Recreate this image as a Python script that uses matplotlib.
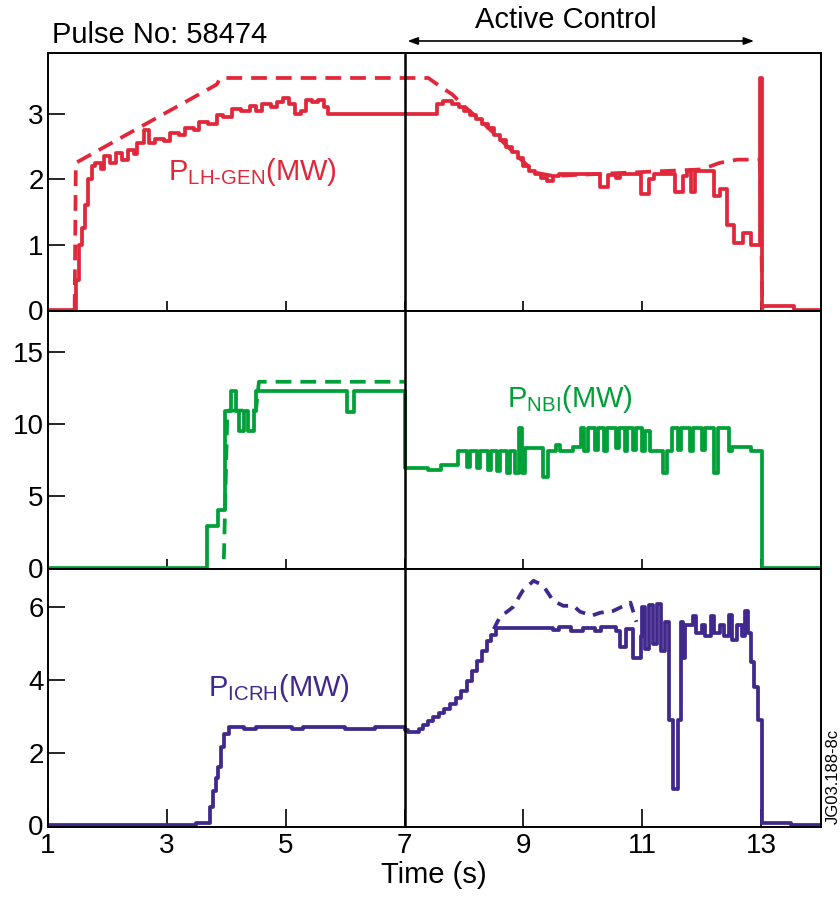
import numpy as np
import matplotlib
matplotlib.use('Agg')
from matplotlib import pyplot as plt

plt.rcParams['font.family'] = ['Liberation Sans', 'DejaVu Sans']
plt.rcParams['mathtext.fontset'] = 'custom'
plt.rcParams['mathtext.rm'] = 'Liberation Sans'
plt.rcParams['mathtext.it'] = 'Liberation Sans:italic'

# Kolory
c_lh = '#e0283a'
c_nbi = '#00a038'
c_icrh = '#40288c'

# P_LH-GEN (MW) - pomiar (ciagla)
t_lh = [1.0, 1.45, 1.48, 1.52, 1.57, 1.62, 1.68, 1.75, 1.80, 1.90, 1.95, 2.05, 2.15, 2.25,
        2.35, 2.45, 2.50, 2.62, 2.70, 2.80, 2.95, 3.05, 3.20, 3.30, 3.45, 3.55, 3.70, 3.85,
        3.95, 4.10, 4.25, 4.40, 4.50, 4.60, 4.75, 4.85, 4.95, 5.05, 5.15, 5.25, 5.35, 5.45,
        5.55, 5.65, 5.72, 7.45, 7.55, 7.65, 7.80, 7.92, 8.00, 8.10, 8.20, 8.30, 8.40, 8.50,
        8.60, 8.70, 8.80, 8.90, 9.00, 9.10, 9.20, 9.30, 9.40, 9.50, 9.60, 10.28, 10.42,
        10.55, 10.62, 10.98, 11.12, 11.20, 11.55, 11.68, 11.75, 11.82, 11.88, 12.20, 12.30,
        12.42, 12.55, 12.70, 12.82, 12.98, 13.02, 13.55, 14.0]
p_lh = [0.0, 0.0, 0.45, 1.0, 1.25, 1.6, 2.0, 2.2, 2.25, 2.15, 2.35, 2.25, 2.40, 2.30,
        2.45, 2.38, 2.55, 2.75, 2.55, 2.62, 2.58, 2.70, 2.68, 2.78, 2.75, 2.88, 2.85, 2.98,
        2.95, 3.08, 3.05, 3.12, 3.05, 3.15, 3.10, 3.18, 3.25, 3.15, 3.0, 3.05, 3.22, 3.18,
        3.22, 3.10, 3.0, 3.0, 3.15, 3.2, 3.15, 3.1, 3.05, 2.98, 2.92, 2.85, 2.78, 2.68,
        2.60, 2.50, 2.42, 2.32, 2.20, 2.12, 2.08, 2.02, 1.98, 2.05, 2.08, 1.88, 2.06,
        2.02, 2.08, 1.78, 2.0, 2.08, 1.80, 2.05, 2.12, 1.80, 2.12, 1.75, 1.85,
        1.30, 1.02, 1.18, 1.00, 3.55, 0.06, 0.0, 0.0]
# P_LH-GEN - zadana (przerywana)
t_lh_ref = [1.45, 1.47, 3.84, 3.90, 7.40, 7.60, 7.80, 8.00, 8.30, 8.60, 8.90, 9.20, 9.50,
            12.00, 12.30, 12.60, 12.98, 13.02]
p_lh_ref = [0.0, 2.25, 3.45, 3.55, 3.55, 3.42, 3.30, 3.12, 2.88, 2.62, 2.35, 2.10, 2.05,
            2.15, 2.25, 2.30, 2.30, 0.0]

# P_NBI (MW)
t_nbi = [1.0, 3.68, 3.86, 3.98, 4.08, 4.17, 4.21, 4.30, 4.37, 4.47, 4.50, 6.03, 6.15, 7.0,
         7.40, 7.62, 7.90, 8.05, 8.10, 8.22, 8.27, 8.40, 8.46, 8.55, 8.60, 8.72, 8.77, 8.85,
         8.92, 8.97, 9.02, 9.33, 9.42, 9.55, 9.62, 9.84, 9.97, 10.02, 10.08, 10.20, 10.25,
         10.35, 10.40, 10.55, 10.60, 10.70, 10.75, 10.85, 10.90, 11.0, 11.05, 11.13, 11.35,
         11.42, 11.50, 11.60, 11.65, 11.80, 11.85, 12.0, 12.05, 12.20, 12.28, 12.45, 12.50,
         12.82, 13.01, 14.0]
p_nbi = [0.0, 2.9, 4.0, 10.9, 12.25, 10.9, 9.5, 10.9, 9.5, 10.9, 12.25, 10.8, 12.25, 6.9,
         6.75, 7.1, 8.1, 7.0, 8.1, 6.9, 8.1, 6.8, 8.1, 6.7, 8.1, 6.6, 8.1, 6.6,
         9.7, 6.6, 8.3, 6.3, 8.1, 8.5, 8.1, 8.4, 9.7, 8.1, 9.7, 8.2, 9.7,
         8.1, 9.7, 8.3, 9.7, 8.1, 9.7, 8.2, 9.7, 8.1, 9.5, 8.1, 6.6,
         8.1, 9.7, 8.2, 9.7, 8.1, 9.7, 8.2, 9.7, 6.6, 9.7, 8.1, 8.4,
         8.1, 0.0, 0.0]
t_nbi_ref = [3.96, 4.02, 4.50, 4.55, 7.0]
p_nbi_ref = [0.6, 10.9, 10.9, 12.9, 12.9]

# P_ICRH (MW)
t_icrh = [1.0, 3.50, 3.72, 3.78, 3.83, 3.87, 3.92, 3.97, 4.05, 4.30, 4.50, 5.10, 5.30, 6.0,
          6.5, 7.0, 7.05, 7.25, 7.31, 7.40, 7.48, 7.58, 7.67, 7.77, 7.86, 7.95, 8.05, 8.13,
          8.22, 8.30, 8.39, 8.46, 8.53, 9.5, 9.6, 9.8, 10.0, 10.2, 10.3, 10.55, 10.63, 10.72,
          10.85, 10.97, 11.0, 11.05, 11.12, 11.18, 11.25, 11.32, 11.38, 11.45, 11.52, 11.6,
          11.65, 11.68, 11.72, 11.85, 11.9, 12.0, 12.05, 12.15, 12.2, 12.3, 12.38, 12.45,
          12.5, 12.6, 12.68, 12.72, 12.78, 12.82, 12.88, 12.95, 13.01, 13.5, 14.0]
p_icrh = [0.0, 0.05, 0.5, 0.95, 1.3, 1.6, 2.15, 2.5, 2.7, 2.65, 2.7, 2.65, 2.7, 2.65,
          2.7, 2.62, 2.58, 2.65, 2.75, 2.88, 2.98, 3.08, 3.2, 3.34, 3.5, 3.7, 3.98, 4.25,
          4.53, 4.8, 5.08, 5.25, 5.42, 5.38, 5.45, 5.35, 5.42, 5.35, 5.45, 5.35, 4.9, 5.4,
          4.6, 5.2, 6.0, 4.85, 6.05, 5.0, 6.1, 4.8, 5.6, 2.9, 1.0, 2.9,
          5.6, 4.6, 5.5, 5.75, 5.3, 5.5, 5.2, 5.75, 5.3, 5.5, 5.2, 5.8,
          5.1, 5.5, 5.2, 5.9, 5.3, 4.5, 3.8, 2.9, 0.05, 0.0, 0.0]
t_icrh_ref = [8.50, 8.60, 8.82, 8.99, 9.17, 9.33, 9.50, 9.67, 9.84, 9.95, 10.15, 10.29,
              10.51, 10.80, 10.90]
p_icrh_ref = [5.40, 5.72, 6.00, 6.46, 6.73, 6.60, 6.18, 6.04, 6.04, 5.88, 5.77, 5.85,
              5.90, 6.13, 5.60]

fig = plt.figure(figsize=(8.4, 9.01), dpi=100)
ax1, ax2, ax3 = fig.subplots(3, 1, sharex=True, gridspec_kw=dict(hspace=0))
fig.subplots_adjust(left=0.057, right=0.977, bottom=0.082, top=0.941)

lw = 2.7
ax1.plot(t_lh, p_lh, color=c_lh, lw=lw, drawstyle='steps-post')
ax1.plot(t_lh_ref, p_lh_ref, color=c_lh, lw=lw, dashes=(4.2, 2.4))
ax2.plot(t_nbi, p_nbi, color=c_nbi, lw=lw, drawstyle='steps-post')
ax2.plot(t_nbi_ref, p_nbi_ref, color=c_nbi, lw=lw, dashes=(4.2, 2.4))
ax3.plot(t_icrh, p_icrh, color=c_icrh, lw=lw, drawstyle='steps-post')
ax3.plot(t_icrh_ref, p_icrh_ref, color=c_icrh, lw=lw, dashes=(3.0, 2.2))

ax1.set_ylim(-0.02, 3.93)
ax1.set_yticks([0, 1, 2, 3])
ax2.set_ylim(-0.1, 17.8)
ax2.set_yticks([0, 5, 10, 15])
ax3.set_ylim(-0.05, 7.05)
ax3.set_yticks([0, 2, 4, 6])
ax3.set_xlim(1, 14)
ax3.set_xticks([1, 3, 5, 7, 9, 11, 13])
ax3.set_xlabel('Time (s)', fontsize=21, labelpad=2)

for ax in (ax1, ax2, ax3):
    ax.axvline(7, color='k', lw=1.8, zorder=5)
    for s in ax.spines.values():
        s.set_linewidth(1.4)
    ax.tick_params(axis='y', direction='in', length=12, width=1.2, labelsize=20, pad=3)
    ax.tick_params(axis='x', direction='in', length=7, width=1.2, labelsize=20, pad=4)
ax3.tick_params(axis='x', length=13)

ax1.text(3.02, 1.99, r'P$_{\mathrm{LH\text{-}GEN}}$(MW)', color=c_lh, fontsize=21,
         va='baseline')
ax2.text(8.72, 11.13, r'P$_{\mathrm{NBI}}$(MW)', color=c_nbi, fontsize=21, va='baseline')
ax3.text(3.70, 3.57, r'P$_{\mathrm{ICRH}}$(MW)', color=c_icrh, fontsize=21, va='baseline')

fig.text(0.062, 0.961, 'Pulse No: 58474', fontsize=21, va='center', ha='left')
fig.text(0.673, 0.978, 'Active Control', fontsize=21, va='center', ha='center')
ax1.annotate('', xy=(12.88, 0.9545), xytext=(7.05, 0.9545),
             xycoords=('data', 'figure fraction'), textcoords=('data', 'figure fraction'),
             arrowprops=dict(arrowstyle='<|-|>,head_length=0.6,head_width=0.22',
                             color='k', lw=1.2, shrinkA=0, shrinkB=0))
fig.text(0.992, 0.138, 'JG03.188-8c', fontsize=12, rotation=90, va='center', ha='center')

fig.savefig('out.png', dpi=100)
